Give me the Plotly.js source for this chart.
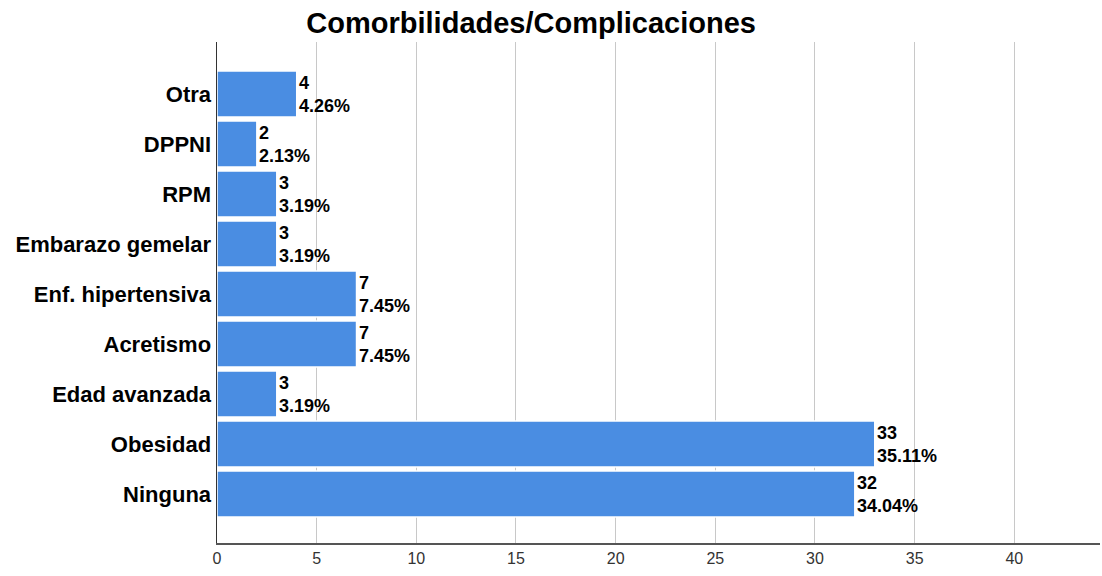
<!DOCTYPE html>
<html>
<head>
<meta charset="utf-8">
<script src="https://cdn.plot.ly/plotly-3.0.1.min.js"></script>
<style>html,body{margin:0;padding:0;background:#fff;}#chart{width:1102px;height:576px;}</style>
</head>
<body>
<div id="chart"></div>
<script>
var categories = ["Ninguna", "Obesidad", "Edad avanzada", "Acretismo", "Enf. hipertensiva", "Embarazo gemelar", "RPM", "DPPNI", "Otra"];
var counts = [32, 33, 3, 7, 7, 3, 3, 2, 4];
var percents = ["34.04%", "35.11%", "3.19%", "7.45%", "7.45%", "3.19%", "3.19%", "2.13%", "4.26%"];
var tickVals = [0, 5, 10, 15, 20, 25, 30, 35, 40];

var FONT = "Liberation Sans, Arial, sans-serif";

var trace = {
  type: "bar",
  orientation: "h",
  y: categories,
  x: counts,
  marker: {color: "#4a8de2", line: {color: "#ffffff", width: 1.5}},
  width: 0.92,
  hoverinfo: "none"
};

var annotations = counts.map(function(c, i){
  return {
    x: c, y: categories[i], xref: "x", yref: "y",
    text: "<b>" + c + "<br>" + percents[i] + "</b>",
    showarrow: false, xanchor: "left", yanchor: "middle", align: "left",
    xshift: 0, yshift: 0,
    font: {family: FONT, size: 18, color: "#000"}
  };
});

var layout = {
  width: 1102, height: 576,
  margin: {l: 217, r: 2, t: 42, b: 33},
  paper_bgcolor: "#fff", plot_bgcolor: "#fff",
  showlegend: false,
  annotations: annotations,
  title: {
    text: "<b>Comorbilidades/Complicaciones</b>",
    x: 0.482, xanchor: "center", xref: "container",
    y: 0.96, yanchor: "middle", yref: "container",
    font: {family: FONT, size: 29, color: "#000"}
  },
  xaxis: {
    range: [0, 44.3],
    tickvals: tickVals,
    ticktext: tickVals.map(String),
    showgrid: true, gridcolor: "#c8c8c8", gridwidth: 1,
    zeroline: false,
    showline: true, linecolor: "#555", linewidth: 1.5,
    ticks: "", ticklen: 0,
    tickfont: {family: FONT, size: 16, color: "#333"},
    fixedrange: true
  },
  yaxis: {
    categoryorder: "array", categoryarray: categories,
    range: [-0.98, 9.04],
    showgrid: false, zeroline: false,
    showline: true, linecolor: "#333", linewidth: 1.5,
    ticks: "", ticklen: 0,
    tickfont: {family: FONT, size: 22, color: "#000", weight: "bold"},
    fixedrange: true
  }
};

Plotly.newPlot("chart", [trace], layout, {displayModeBar: false, staticPlot: true});
</script>
</body>
</html>
